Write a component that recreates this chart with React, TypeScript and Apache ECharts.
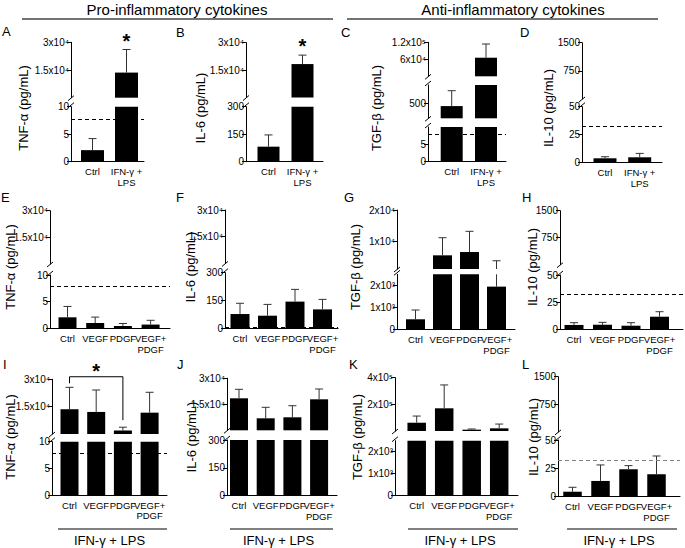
import React, { useEffect, useRef } from 'react';
import * as echarts from 'echarts';

const FONT = '"Liberation Sans", Arimo, Arial, Helvetica, sans-serif';

// ---------- categories ----------
const catsBasal = ['Ctrl', 'IFN-γ +\nLPS'];
const catsGF = ['Ctrl', 'VEGF', 'PDGF', 'VEGF+\nPDGF'];

// ---------- values (mean) and top of error bar (mean + SD) ----------
const tnfBasal = [2.1, 13600];
const tnfBasalErr = [4.2, 26100];
const il6Basal = [82, 18300];
const il6BasalErr = [146, 23200];
const tgfBasal = [430, 65600];
const tgfBasalErr = [846, 114000];
const il10Basal = [3.6, 4.5];
const il10BasalErr = [5, 8];

const tnfGF = [2.06, 1.0, 0.45, 0.7];
const tnfGFErr = [4.1, 2.1, 0.9, 1.5];
const il6GF = [77, 68, 144, 102];
const il6GFErr = [135, 129, 210, 156];
const tgfGF = [455, 5710, 6750, 1940];
const tgfGFErr = [877, 11260, 13280, 4000];
const il10GF = [4.0, 4.2, 3.3, 11.6];
const il10GFErr = [6.1, 6.4, 6.1, 16.2];

const tnfStim = [13580, 12100, 1860, 11700];
const tnfStimErr = [25600, 24140, 3720, 22880];
const il6Stim = [18460, 6920, 7500, 17880];
const il6StimErr = [23650, 13270, 14190, 23830];
const tgfStim = [62000, 170000, 10000, 20000];
const tgfStimErr = [112000, 345000, 15000, 52000];
const il10Stim = [4.4, 13.9, 24.2, 19.8];
const il10StimErr = [8.3, 28, 27.4, 35.9];

// detection limits (dashed lines)
const lodTNF = 7.8;
const lodIL6 = 3.1;
const lodTGF = 7.8;
const lodIL10 = 32;

// ---------- tick values and labels ----------
const tnfLowTicks = [0, 5, 10];
const tnfLowLabels = ['0', '5', '10'];
const tnfHighTicks = [15000, 30000];
const tnfHighLabels = ['1.5x10⁴', '3x10⁴'];
const il6LowTicks = [0, 150, 300];
const il6LowLabels = ['0', '150', '300'];
const il6HighTicks = [15000, 30000];
const il6HighLabels = ['1.5x10⁴', '3x10⁴'];
const tgfCLowTicks = [0, 5];
const tgfCLowLabels = ['0', '5'];
const tgfCMidTicks = [500];
const tgfCMidLabels = ['500'];
const tgfCHighTicks = [60000, 120000];
const tgfCHighLabels = ['6x10⁴', '1.2x10⁵'];
const il10LowTicks = [0, 25, 50];
const il10LowLabels = ['0', '25', '50'];
const il10HighTicks = [750, 1500];
const il10HighLabels = ['750', '1500'];
const tgfLowTicks = [0, 1000, 2000];
const tgfLowLabels = ['0', '1x10³', '2x10³'];
const tgfGHighTicks = [10000, 20000];
const tgfGHighLabels = ['1x10⁴', '2x10⁴'];
const tgfKHighTicks = [200000, 400000];
const tgfKHighLabels = ['2x10⁵', '4x10⁵'];

const groupLabel = 'IFN-γ + LPS';

// ---------- panel layout ----------
const PANELS: any[] = [
  {
    letter: 'A', lx: 2, ly: 31, title: 'TNF-α (pg/mL)', tx: 23, ty: 108,
    cats: catsBasal, vals: tnfBasal, errs: tnfBasalErr, lod: lodTNF,
    axisX: 71, xEnd: 144, c0: 92.5, step: 34, barW: 23, stars: [1],
    segs: [
      { top: 106.7, bottom: 161.7, min: 0, max: 10, ticks: tnfLowTicks, labels: tnfLowLabels },
      { top: 42.3, bottom: 97.7, min: 0, max: 30000, ticks: tnfHighTicks, labels: tnfHighLabels },
    ],
  },
  {
    letter: 'B', lx: 176, ly: 32, title: 'IL-6 (pg/mL)', tx: 200, ty: 108,
    cats: catsBasal, vals: il6Basal, errs: il6BasalErr, lod: lodIL6,
    axisX: 246, xEnd: 323, c0: 268.5, step: 34, barW: 22, stars: [1],
    segs: [
      { top: 106.7, bottom: 161.7, min: 0, max: 300, ticks: il6LowTicks, labels: il6LowLabels },
      { top: 42.7, bottom: 97.5, min: 0, max: 30000, ticks: il6HighTicks, labels: il6HighLabels },
    ],
  },
  {
    letter: 'C', lx: 341, ly: 32, title: 'TGF-β (pg/mL)', tx: 376, ty: 108,
    cats: catsBasal, vals: tgfBasal, errs: tgfBasalErr, lod: lodTGF,
    axisX: 428, xEnd: 506, c0: 451.7, step: 34.3, barW: 22,
    segs: [
      { top: 127, bottom: 161.7, min: 0, max: 10, ticks: tgfCLowTicks, labels: tgfCLowLabels },
      { top: 85, bottom: 118.3, min: 100, max: 1000, ticks: tgfCMidTicks, labels: tgfCMidLabels },
      { top: 42.3, bottom: 76.3, min: 0, max: 120000, ticks: tgfCHighTicks, labels: tgfCHighLabels },
    ],
  },
  {
    letter: 'D', lx: 520, ly: 32, title: 'IL-10 (pg/mL)', tx: 548, ty: 108,
    cats: catsBasal, vals: il10Basal, errs: il10BasalErr, lod: lodIL10,
    axisX: 582, xEnd: 662, c0: 605, step: 34.7, barW: 23,
    segs: [
      { top: 106.7, bottom: 162.3, min: 0, max: 50, ticks: il10LowTicks, labels: il10LowLabels },
      { top: 42.7, bottom: 99, min: 0, max: 1500, ticks: il10HighTicks, labels: il10HighLabels },
    ],
  },
  {
    letter: 'E', lx: 1, ly: 197, title: 'TNF-α (pg/mL)', tx: 10, ty: 267,
    cats: catsGF, vals: tnfGF, errs: tnfGFErr, lod: lodTNF,
    axisX: 50, xEnd: 170, c0: 67.5, step: 27.7, barW: 18,
    segs: [
      { top: 275, bottom: 328.3, min: 0, max: 10, ticks: tnfLowTicks, labels: tnfLowLabels },
      { top: 210.7, bottom: 264, min: 0, max: 30000, ticks: tnfHighTicks, labels: tnfHighLabels },
    ],
  },
  {
    letter: 'F', lx: 176, ly: 197, title: 'IL-6 (pg/mL)', tx: 190, ty: 267,
    cats: catsGF, vals: il6GF, errs: il6GFErr, lod: lodIL6,
    axisX: 225, xEnd: 338, c0: 240, step: 27.5, barW: 19,
    segs: [
      { top: 272.7, bottom: 328.3, min: 0, max: 300, ticks: il6LowTicks, labels: il6LowLabels },
      { top: 210, bottom: 263.4, min: 0, max: 30000, ticks: il6HighTicks, labels: il6HighLabels },
    ],
  },
  {
    letter: 'G', lx: 344, ly: 197, title: 'TGF-β (pg/mL)', tx: 355, ty: 267,
    cats: catsGF, vals: tgfGF, errs: tgfGFErr, lod: lodTGF,
    axisX: 397, xEnd: 515, c0: 415.5, step: 27, barW: 19,
    segs: [
      { top: 274.3, bottom: 329.3, min: 0, max: 2500, ticks: tgfLowTicks, labels: tgfLowLabels },
      { top: 210, bottom: 269, min: 1400, max: 20000, ticks: tgfGHighTicks, labels: tgfGHighLabels },
    ],
  },
  {
    letter: 'H', lx: 522, ly: 197, title: 'IL-10 (pg/mL)', tx: 532, ty: 267,
    cats: catsGF, vals: il10GF, errs: il10GFErr, lod: lodIL10,
    axisX: 560, xEnd: 683, c0: 574, step: 28.5, barW: 19,
    segs: [
      { top: 275, bottom: 329.3, min: 0, max: 50, ticks: il10LowTicks, labels: il10LowLabels },
      { top: 210.7, bottom: 264.7, min: 0, max: 1500, ticks: il10HighTicks, labels: il10HighLabels },
    ],
  },
  {
    letter: 'I', lx: 3, ly: 364, title: 'TNF-α (pg/mL)', tx: 10, ty: 437,
    cats: catsGF, vals: tnfStim, errs: tnfStimErr, lod: lodTNF,
    axisX: 52, xEnd: 167, c0: 69.5, step: 26.7, barW: 18,
    bracket: { from: 0, to: 2, top: 31400, leftEnd: 27800, rightEnd: 7600 },
    under: { x1: 58, x2: 167 },
    segs: [
      { top: 441.7, bottom: 495, min: 0, max: 10, ticks: tnfLowTicks, labels: tnfLowLabels },
      { top: 379.3, bottom: 434, min: 0, max: 30000, ticks: tnfHighTicks, labels: tnfHighLabels },
    ],
  },
  {
    letter: 'J', lx: 177, ly: 364, title: 'IL-6 (pg/mL)', tx: 191, ty: 437,
    cats: catsGF, vals: il6Stim, errs: il6StimErr, lod: lodIL6,
    axisX: 227, xEnd: 337, c0: 239, step: 26.7, barW: 18,
    under: { x1: 230, x2: 333 },
    segs: [
      { top: 440, bottom: 495.7, min: 0, max: 300, ticks: il6LowTicks, labels: il6LowLabels },
      { top: 378.3, bottom: 430.3, min: 0, max: 30000, ticks: il6HighTicks, labels: il6HighLabels },
    ],
  },
  {
    letter: 'K', lx: 349, ly: 364, title: 'TGF-β (pg/mL)', tx: 357, ty: 437,
    cats: catsGF, vals: tgfStim, errs: tgfStimErr, lod: lodTGF,
    axisX: 395, xEnd: 518, c0: 416.7, step: 27.5, barW: 18.5,
    under: { x1: 408, x2: 518 },
    segs: [
      { top: 440.7, bottom: 495.7, min: 0, max: 2500, ticks: tgfLowTicks, labels: tgfLowLabels },
      { top: 377.6, bottom: 431, min: 0, max: 400000, ticks: tgfKHighTicks, labels: tgfKHighLabels },
    ],
  },
  {
    letter: 'L', lx: 522, ly: 364, title: 'IL-10 (pg/mL)', tx: 533, ty: 437,
    cats: catsGF, vals: il10Stim, errs: il10StimErr, lod: lodIL10, lodColor: '#808080',
    axisX: 558, xEnd: 680, c0: 572.5, step: 28, barW: 18.5,
    under: { x1: 567, x2: 677 },
    segs: [
      { top: 440, bottom: 496.7, min: 0, max: 50, ticks: il10LowTicks, labels: il10LowLabels },
      { top: 376.7, bottom: 431.9, min: 0, max: 1500, ticks: il10HighTicks, labels: il10HighLabels },
    ],
  },
];

const HEADERS = [
  { text: 'Pro-inflammatory cytokines', cx: 177, x1: 22, x2: 333 },
  { text: 'Anti-inflammatory cytokines', cx: 513, x1: 347, x2: 658 },
];

const ERR_COLOR = '#333';
const CAP_W = 8;

function lineEl(x1: number, y1: number, x2: number, y2: number, stroke = '#000', lw = 1) {
  return { type: 'line', silent: true, shape: { x1, y1, x2, y2 }, style: { stroke, lineWidth: lw } };
}

function textEl(t: string, x: number, y: number, size: number, extra: any = {}, rotation = 0) {
  return {
    type: 'text', silent: true, x, y, rotation,
    style: {
      text: t, fill: '#000', fontSize: size, fontFamily: FONT,
      align: 'center', verticalAlign: 'middle', textAlign: 'center', textVerticalAlign: 'middle',
      ...extra,
    },
  };
}

function buildOption() {
  const grid: any[] = [];
  const xAxis: any[] = [];
  const yAxis: any[] = [];
  const series: any[] = [];
  const graphic: any[] = [];

  PANELS.forEach((p) => {
    const n = p.cats.length;
    const last = p.c0 + (n - 1) * p.step;
    const xMin = (p.axisX - p.c0) / p.step;
    const xMax = n - 1 + (p.xEnd - last) / p.step;

    p.segs.forEach((s: any, si: number) => {
      const gi = grid.length;
      const bottomSeg = si === 0;
      const topSeg = si === p.segs.length - 1;
      const prevMax = si > 0 ? p.segs[si - 1].max : -Infinity;

      grid.push({
        left: p.axisX, top: s.top, width: p.xEnd - p.axisX, height: s.bottom - s.top,
        containLabel: false, outerBoundsMode: 'none',
      });
      xAxis.push({
        type: 'value', gridIndex: gi, min: xMin, max: xMax, show: bottomSeg,
        axisLine: { show: bottomSeg, onZero: false, lineStyle: { color: '#000', width: 1 } },
        axisTick: { show: false },
        splitLine: { show: false },
        axisLabel: { show: false },
      });
      yAxis.push({
        type: 'value', gridIndex: gi, min: s.min, max: s.max, startValue: s.min,
        axisLine: { show: true, onZero: false, lineStyle: { color: '#000', width: 1 } },
        axisTick: { show: true, customValues: s.ticks, length: 4, lineStyle: { color: '#000', width: 1 } },
        splitLine: { show: false },
        axisLabel: {
          customValues: s.ticks, hideOverlap: false, showMinLabel: true, showMaxLabel: true,
          formatter: (v: number) => {
            const k = s.ticks.findIndex((t: number) => Math.abs(t - v) <= 1e-6 * Math.max(1, Math.abs(t)));
            return k >= 0 ? s.labels[k] : '';
          },
          color: '#000', fontSize: 10, margin: 2, fontFamily: FONT,
        },
      });

      const floor = si === 0 ? s.min : prevMax;
      const barData = p.vals
        .map((v: number, i: number) => (v > floor ? [i, Math.min(v, s.max)] : null))
        .filter((d: any) => d);
      const bar: any = {
        type: 'bar', xAxisIndex: gi, yAxisIndex: gi, data: barData, barWidth: p.barW,
        itemStyle: { color: '#000' }, clip: true, silent: true, z: 2,
      };
      if (bottomSeg && p.lod != null) {
        bar.markLine = {
          silent: true, symbol: ['none', 'none'], label: { show: false },
          lineStyle: { color: p.lodColor || '#000', type: [4, 3], width: 1.2 },
          data: [{ yAxis: p.lod }],
        };
      }
      series.push(bar);

      series.push({
        type: 'custom', xAxisIndex: gi, yAxisIndex: gi, silent: true, z: 3,
        data: p.vals.map((v: number, i: number) => [i, v, p.errs[i]]),
        renderItem: (_params: any, api: any) => {
          const i = api.value(0);
          const v = api.value(1);
          const e = api.value(2);
          const empty = { type: 'group', children: [] as any[] };
          if (si > 0 && e <= prevMax) return empty;
          const lo = si === 0 || v > prevMax ? Math.max(v, s.min) : s.min;
          const hi = Math.min(e, s.max);
          if (hi <= lo) return empty;
          const p0 = api.coord([i, lo]);
          const p1 = api.coord([i, hi]);
          const children: any[] = [
            { type: 'line', shape: { x1: p0[0], y1: p0[1], x2: p1[0], y2: p1[1] }, style: { stroke: ERR_COLOR, lineWidth: 1 } },
          ];
          if (e <= s.max) {
            children.push({ type: 'line', shape: { x1: p1[0] - CAP_W / 2, y1: p1[1], x2: p1[0] + CAP_W / 2, y2: p1[1] }, style: { stroke: ERR_COLOR, lineWidth: 1 } });
          }
          return { type: 'group', children };
        },
      });

      // category labels under the bottom segment, placed through the x scale
      if (bottomSeg) {
        series.push({
          type: 'custom', xAxisIndex: gi, yAxisIndex: gi, silent: true, z: 5, clip: false,
          data: p.cats.map((_c: string, i: number) => [i, s.min]),
          renderItem: (_params: any, api: any) => {
            const i = api.value(0);
            const pt = api.coord([i, api.value(1)]);
            return {
              type: 'text', x: pt[0], y: pt[1] + 5,
              style: {
                text: p.cats[i], fontSize: 9.5, lineHeight: 10.5, fontFamily: FONT, fill: '#000',
                align: 'center', verticalAlign: 'top', textAlign: 'center', textVerticalAlign: 'top',
              },
            };
          },
        });
      }

      if (topSeg && p.stars) {
        series.push({
          type: 'custom', xAxisIndex: gi, yAxisIndex: gi, silent: true, z: 5, clip: false,
          data: p.stars.map((i: number) => [i, p.errs[i]]),
          renderItem: (_params: any, api: any) => {
            const pt = api.coord([api.value(0), api.value(1)]);
            return {
              type: 'text', x: pt[0], y: pt[1] - 9,
              style: { text: '*', fontSize: 20, fontWeight: 'bold', fontFamily: FONT, fill: '#000', align: 'center', verticalAlign: 'middle', textAlign: 'center', textVerticalAlign: 'middle' },
            };
          },
        });
      }

      if (topSeg && p.bracket) {
        const b = p.bracket;
        series.push({
          type: 'custom', xAxisIndex: gi, yAxisIndex: gi, silent: true, z: 5, clip: false,
          data: [[b.from, b.to]],
          renderItem: (_params: any, api: any) => {
            const a = api.value(0);
            const c = api.value(1);
            const pl = api.coord([a, b.leftEnd]);
            const pt1 = api.coord([a, b.top]);
            const pt2 = api.coord([c, b.top]);
            const pr = api.coord([c, b.rightEnd]);
            return {
              type: 'group',
              children: [
                { type: 'polyline', shape: { points: [pl, pt1, pt2, pr] }, style: { stroke: '#000', lineWidth: 1, fill: 'none' } },
                {
                  type: 'text', x: (pt1[0] + pt2[0]) / 2, y: pt1[1] - 6,
                  style: { text: '*', fontSize: 20, fontWeight: 'bold', fontFamily: FONT, fill: '#000', align: 'center', verticalAlign: 'middle', textAlign: 'center', textVerticalAlign: 'middle' },
                },
              ],
            };
          },
        });
      }

      // axis break marks
      if (si > 0) {
        const yU = s.bottom;
        const yL = p.segs[si - 1].top;
        graphic.push(lineEl(p.axisX - 3, yU + 3, p.axisX + 3, yU - 2));
        graphic.push(lineEl(p.axisX - 3, yL + 1, p.axisX + 3, yL - 4));
      }
    });

    graphic.push(textEl(p.letter, p.lx, p.ly, 13, { align: 'left', textAlign: 'left' }));
    graphic.push(textEl(p.title, p.tx, p.ty, 13, {}, Math.PI / 2));
    if (p.under) {
      graphic.push(lineEl(p.under.x1, 529, p.under.x2, 529, '#000', 1));
      graphic.push(textEl(groupLabel, (p.under.x1 + p.under.x2) / 2 - 3, 540, 13));
    }
  });

  HEADERS.forEach((h) => {
    graphic.push(textEl(h.text, h.cx, 9, 15));
    graphic.push(lineEl(h.x1, 19, h.x2, 19, '#444', 1.5));
  });

  return {
    animation: false,
    backgroundColor: '#fff',
    textStyle: { fontFamily: FONT },
    grid, xAxis, yAxis, series, graphic,
  };
}

export default function App() {
  const ref = useRef<HTMLDivElement>(null);
  useEffect(() => {
    if (!ref.current) return;
    const chart = echarts.init(ref.current, null, { renderer: 'svg', width: 685, height: 548 });
    chart.setOption(buildOption() as any);
    return () => chart.dispose();
  }, []);
  return (
    <div
      ref={ref}
      style={{ position: 'fixed', left: 0, top: 0, width: 685, height: 548, background: '#fff' }}
    />
  );
}
